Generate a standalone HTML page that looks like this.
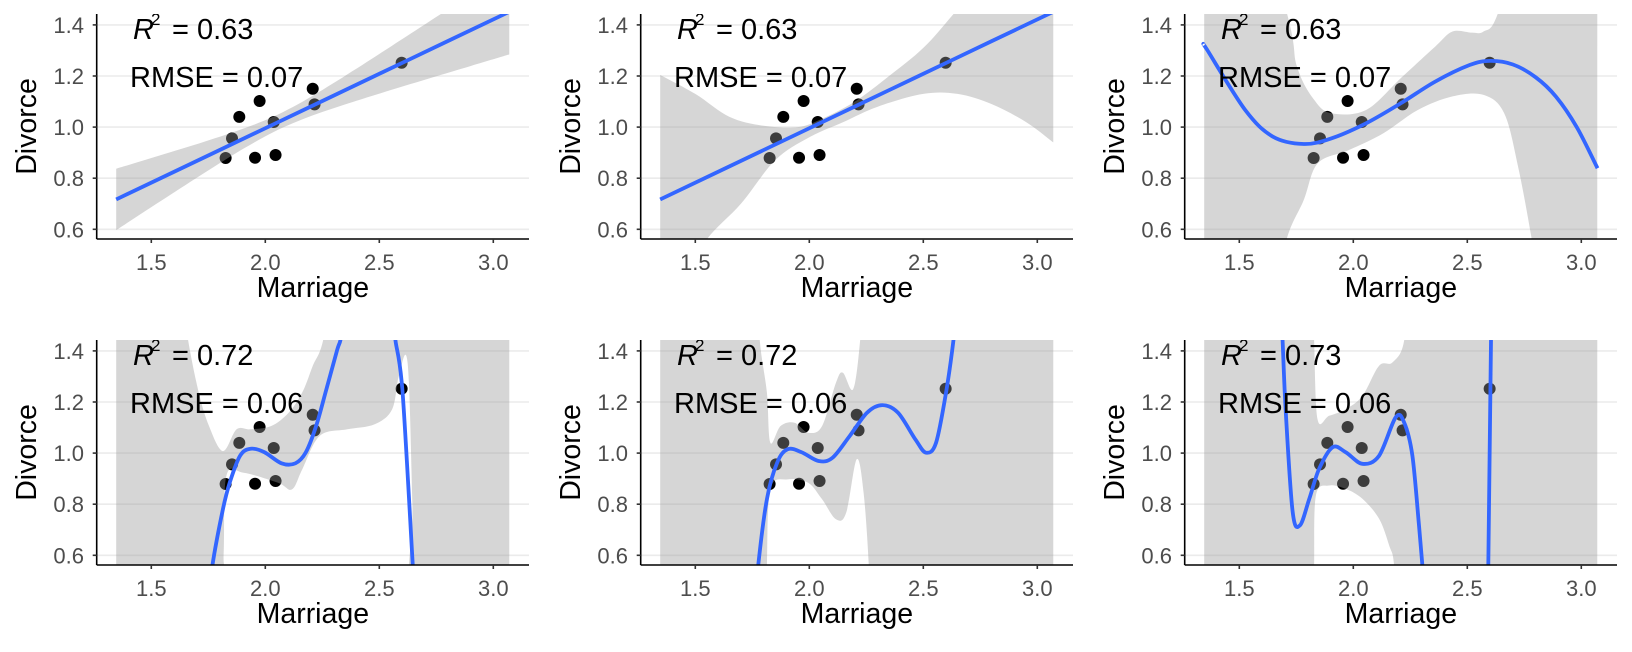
<!DOCTYPE html>
<html><head><meta charset="utf-8">
<style>
html,body{margin:0;padding:0;background:#fff;overflow:hidden;width:1632px;height:652px;}
svg{display:block;}
text{font-family:"Liberation Sans",Arial,sans-serif;}
</style></head>
<body>
<svg id="s" width="1632" height="652" viewBox="0 0 1632 652" xmlns="http://www.w3.org/2000/svg"></svg>
<script>
const X0=96.7,X1=529,Y0=14,Y1=239;
const fx=v=>151.3+(v-1.5)*228;
const fy=v=>229.3-(v-0.6)*255.5;
const pts=[[1.826,0.879],[1.854,0.956],[1.886,1.04],[1.975,1.102],[1.955,0.88],[2.037,1.02],[2.045,0.891],[2.208,1.15],[2.216,1.089],[2.598,1.252]];
function cat(p){
  let d="";
  for(let i=0;i<p.length-1;i++){
    const a=p[Math.max(i-1,0)],b=p[i],c=p[i+1],e=p[Math.min(i+2,p.length-1)];
    const c1=[b[0]+(c[0]-a[0])/6,b[1]+(c[1]-a[1])/6];
    const c2=[c[0]-(e[0]-b[0])/6,c[1]-(e[1]-b[1])/6];
    d+=` C${c1[0].toFixed(1)},${c1[1].toFixed(1)} ${c2[0].toFixed(1)},${c2[1].toFixed(1)} ${c[0].toFixed(1)},${c[1].toFixed(1)}`;
  }
  return d;
}
const px=a=>a.map(q=>[fx(q[0]),fy(q[1])]);
function lineFn(x){return 0.717+0.426*(x-1.346);}
function samp(f,a,b,n){const r=[];for(let i=0;i<=n;i++){const x=a+(b-a)*i/n;r.push([x,f(x)]);}return r;}
const L=1.346,R=3.07,TOP=2.5,BOT=-1;
const P=[];
P.push({r2:"0.63",rm:"0.07",
 up:samp(x=>lineFn(x)+Math.sqrt(0.0009+0.0265*(x-2.06)**2),L,R,40),
 lo:samp(x=>lineFn(x)-Math.sqrt(0.0009+0.0265*(x-2.06)**2),L,R,40),
 curves:[samp(lineFn,L,R,4)]});
P.push({r2:"0.63",rm:"0.07",
 up:[[L,1.204],[1.5,1.13],[1.65,1.04],[1.8,1.005],[1.95,1.0],[2.05,1.03],[2.2,1.1],[2.35,1.2],[2.5,1.31],[2.63,1.44],[2.8,1.62],[R,1.9]],
 lo:[[L,0.2],[1.45,0.4],[1.55,0.56],[1.7,0.70],[1.85,0.87],[2.0,0.96],[2.15,1.02],[2.3,1.08],[2.5,1.13],[2.65,1.13],[2.8,1.09],[2.95,1.02],[R,0.94]],
 curves:[samp(lineFn,L,R,4)]});
P.push({r2:"0.63",rm:"0.07",
 up:[[L,TOP],[1.692,1.5],[1.753,1.237],[1.829,1.106],[1.905,1.054],[2.056,1.067],[2.208,1.191],[2.359,1.315],[2.435,1.374],[2.52,1.37],[2.571,1.374],[2.632,1.44],[2.75,1.8],[R,TOP]],
 lo:[[L,BOT],[1.65,0.3],[1.708,0.562],[1.783,0.715],[1.844,0.858],[1.98,0.91],[2.132,0.976],[2.283,1.067],[2.435,1.12],[2.571,1.126],[2.662,1.054],[2.723,0.845],[2.783,0.56],[2.85,0.2],[R,BOT]],
 curves:[[[1.346,1.32],[1.359,1.302],[1.526,1.067],[1.647,0.963],[1.783,0.934],[1.905,0.956],[2.056,1.015],[2.208,1.093],[2.359,1.178],[2.51,1.243],[2.6,1.259],[2.7,1.245],[2.8,1.195],[2.889,1.119],[2.98,1.0],[3.071,0.839]]]});
P.push({r2:"0.72",rm:"0.06",
 up:[[L,TOP],[1.64,1.6],[1.662,1.44],[1.708,1.237],[1.753,1.106],[1.814,1.008],[1.874,1.093],[1.935,1.093],[2.026,1.106],[2.102,1.158],[2.162,1.237],[2.208,1.341],[2.253,1.44],[2.3,1.7],[R,TOP]],
 lo:[[L,BOT],[1.80,0.3],[1.817,0.6],[1.829,0.91],[1.905,0.923],[2.056,0.884],[2.117,0.858],[2.162,0.936],[2.238,1.067],[2.359,1.093],[2.48,1.113],[2.556,1.171],[2.586,1.302],[2.624,1.353],[2.645,0.8],[2.66,0.2],[R,BOT]],
 curves:[[[1.76,0.45],[1.768,0.56],[1.814,0.78],[1.844,0.884],[1.889,0.989],[1.935,1.017],[1.995,1.004],[2.071,0.96],[2.132,0.96],[2.177,1.002],[2.223,1.106],[2.268,1.25],[2.314,1.4],[2.329,1.44],[2.34,1.5]],
         [[2.565,1.5],[2.571,1.44],[2.602,1.237],[2.647,0.56],[2.655,0.45]]]});
P.push({r2:"0.72",rm:"0.06",
 up:[[L,TOP],[1.77,1.7],[1.783,1.44],[1.814,1.237],[1.829,1.041],[1.874,1.106],[1.935,1.119],[1.995,1.08],[2.056,1.106],[2.117,1.276],[2.147,1.315],[2.192,1.25],[2.223,1.44],[2.24,1.7],[R,TOP]],
 lo:[[L,BOT],[1.81,0.3],[1.814,0.56],[1.829,0.858],[1.905,0.897],[1.995,0.884],[2.056,0.819],[2.117,0.741],[2.162,0.767],[2.208,0.976],[2.238,0.845],[2.261,0.56],[2.27,0.3],[R,BOT]],
 curves:[[[1.77,0.45],[1.776,0.56],[1.814,0.819],[1.859,0.963],[1.905,1.015],[1.965,1.004],[2.041,0.969],[2.102,0.982],[2.177,1.067],[2.253,1.158],[2.32,1.188],[2.389,1.158],[2.465,1.054],[2.511,1.002],[2.556,1.041],[2.602,1.25],[2.632,1.44],[2.64,1.52]]]});
P.push({r2:"0.73",rm:"0.06",
 up:[[L,TOP],[1.82,1.7],[1.828,1.44],[1.843,1.133],[1.894,1.146],[1.967,1.172],[2.04,1.224],[2.113,1.342],[2.172,1.355],[2.223,1.44],[2.24,1.7],[R,TOP]],
 lo:[[L,BOT],[1.825,0.3],[1.828,0.56],[1.836,0.834],[1.894,0.873],[1.967,0.86],[2.04,0.821],[2.113,0.743],[2.157,0.639],[2.179,0.56],[2.19,0.3],[R,BOT]],
 curves:[[[1.686,1.5],[1.69,1.44],[1.704,1.159],[1.734,0.769],[1.766,0.717],[1.807,0.821],[1.85,0.938],[1.909,1.023],[1.967,1.003],[2.04,0.958],[2.113,0.99],[2.186,1.14],[2.223,1.12],[2.259,0.99],[2.288,0.717],[2.303,0.56],[2.308,0.5]],
         [[2.591,0.5],[2.592,0.56],[2.604,1.44],[2.605,1.5]]]});

let h="";
P.forEach((p,i)=>{
  const ox=(i%3)*544, oy=Math.floor(i/3)*326;
  h+=`<g transform="translate(${ox},${oy})">`;
  h+=`<clipPath id="c${i}"><rect x="${X0}" y="${Y0}" width="${X1-X0}" height="${Y1-Y0}"/></clipPath>`;
  h+=`<g clip-path="url(#c${i})">`;
  [0.6,0.8,1.0,1.2,1.4].forEach(v=>{h+=`<line x1="${X0}" x2="${X1}" y1="${fy(v)}" y2="${fy(v)}" stroke="#ebebeb" stroke-width="1.6"/>`;});
  pts.forEach(q=>{h+=`<circle cx="${fx(q[0])}" cy="${fy(q[1])}" r="6" fill="#000"/>`;});
  const up=px(p.up), lo=px(p.lo).reverse();
  const d=`M${up[0][0]},${up[0][1]}`+cat(up)+` L${lo[0][0]},${lo[0][1]}`+cat(lo)+"Z";
  h+=`<path d="${d}" fill="#999" fill-opacity="0.4"/>`;
  p.curves.forEach(c=>{const q=px(c);h+=`<path d="M${q[0][0]},${q[0][1]}${cat(q)}" fill="none" stroke="#3366FF" stroke-width="3.8"/>`;});
  h+=`<text x="133" y="39" font-size="29" font-style="italic">R</text><text x="151" y="25" font-size="17">2</text><text x="172" y="39" font-size="29">= ${p.r2}</text>`;
  h+=`<text x="130" y="87" font-size="29">RMSE = ${p.rm}</text>`;
  h+=`</g>`;
  h+=`<line x1="${X0}" x2="${X0}" y1="${Y0}" y2="${Y1}" stroke="#000" stroke-width="1.6"/>`;
  h+=`<line x1="${X0}" x2="${X1}" y1="${Y1}" y2="${Y1}" stroke="#000" stroke-width="1.6"/>`;
  [0.6,0.8,1.0,1.2,1.4].forEach(v=>{const y=fy(v);h+=`<line x1="${X0-4}" x2="${X0}" y1="${y}" y2="${y}" stroke="#333" stroke-width="1.6"/><text x="84" y="${y+8}" font-size="22" fill="#4d4d4d" text-anchor="end">${v.toFixed(1)}</text>`;});
  [1.5,2.0,2.5,3.0].forEach(v=>{const x=fx(v);h+=`<line x1="${x}" x2="${x}" y1="${Y1}" y2="${Y1+4}" stroke="#333" stroke-width="1.6"/><text x="${x}" y="270" font-size="22" fill="#4d4d4d" text-anchor="middle">${v.toFixed(1)}</text>`;});
  h+=`<text x="${(X0+X1)/2}" y="297" font-size="28.5" text-anchor="middle">Marriage</text>`;
  h+=`<text transform="translate(36,126.5) rotate(-90)" font-size="28.5" text-anchor="middle">Divorce</text>`;
  h+=`</g>`;
});
document.getElementById('s').innerHTML=h;
</script>
</body></html>
